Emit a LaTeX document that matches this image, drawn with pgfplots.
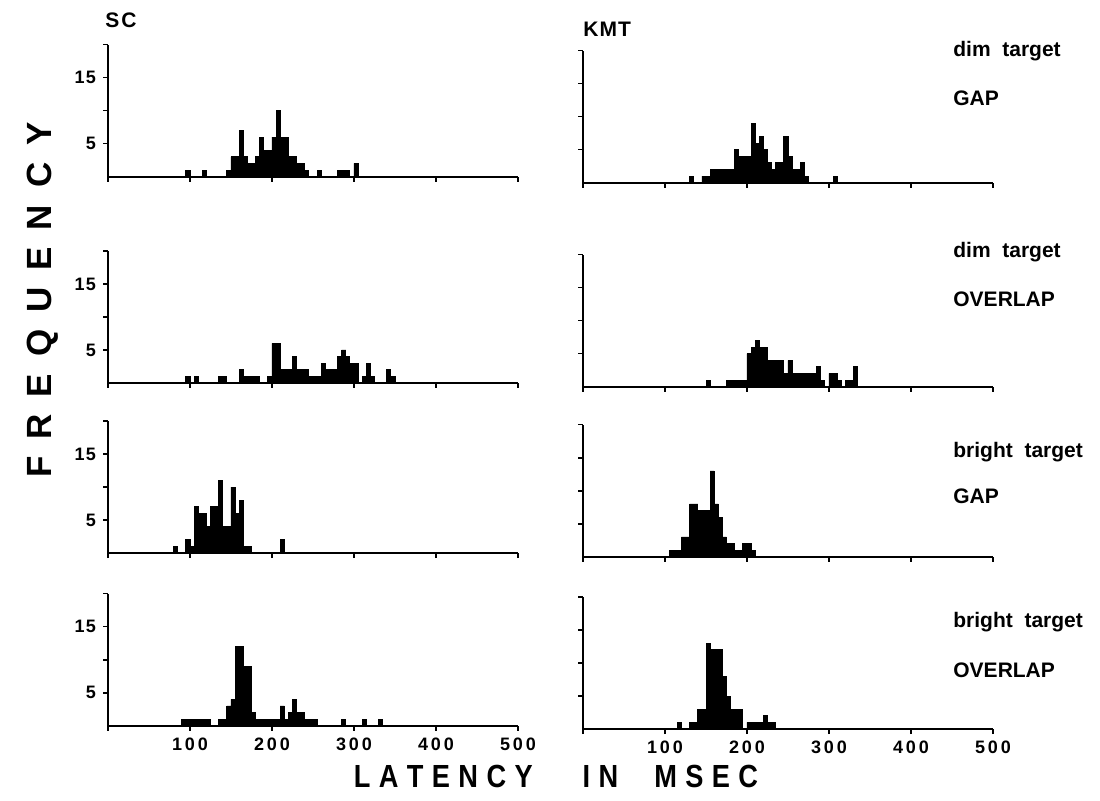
\documentclass[border=0pt]{standalone}
\usepackage{fontspec}
\setmainfont{Liberation Sans}
\newfontfamily\condfont[FakeStretch=0.85]{Liberation Sans}
\usepackage{pgfplots}
\pgfplotsset{compat=1.18}
\newcommand{\tlab}[3]{#1\kern1.4pt#2\kern1.4pt#3}
\newcommand{\spc}[1]{\kern#1}
\pgfplotsset{
  panel/.style={
    scale only axis, width=205pt, height=66pt,
    xmin=0, xmax=500, ymin=0, ymax=20,
    axis x line*=bottom, axis y line*=left,
    axis line style={line width=1pt, -},
    xtick={0,100,...,500}, ytick={5,10,15,20},
    xticklabels={}, yticklabels={},
    tick align=outside, major tick length=2.5pt,
    tick style={line width=0.8pt, black},
    /pgf/number format/assume math mode=true,
    every tick label/.append style={font=\bfseries\fontsize{9}{10}\selectfont},
    ybar, bar width=5, bar shift=2.5,
    clip=false,
  },
  leftp/.style={panel, yticklabels={5,,1\kern0.6pt5,}},
  bottomp/.style={xticklabels={,\tlab100,\tlab200,\tlab300,\tlab400,\tlab500}},
  hist/.style={fill=black, draw=black, line width=0.4pt},
}
\begin{document}
\begin{tikzpicture}
\useasboundingbox (0,0) rectangle (550pt,400pt);
% ---------- row 1
\begin{axis}[leftp, at={(54pt,311.65pt)}, anchor=south west]
\addplot[hist] coordinates {(95,1)(115,1)(145,1)(150,3)(155,3)(160,7)(165,3)(170,2)(175,2)(180,3)(185,6)(190,4)(195,4)(200,6)(205,10)(210,6)(215,6)(220,3)(225,3)(230,2)(235,2)(240,1)(255,1)(280,1)(285,1)(290,1)(300,2)};
\end{axis}
\begin{axis}[panel, at={(291.5pt,308.65pt)}, anchor=south west]
\addplot[hist] coordinates {(130,1)(145,1)(150,1)(155,2)(160,2)(165,2)(170,2)(175,2)(180,2)(185,5)(190,4)(195,4)(200,4)(205,9)(210,6)(215,7)(220,5)(225,3)(230,2)(235,3)(240,3)(245,7)(250,4)(255,2)(260,2)(265,3)(270,1)(305,1)};
\end{axis}
% ---------- row 2
\begin{axis}[leftp, at={(54pt,208.5pt)}, anchor=south west]
\addplot[hist] coordinates {(95,1)(105,1)(135,1)(140,1)(160,2)(165,1)(170,1)(175,1)(180,1)(195,1)(200,6)(205,6)(210,2)(215,2)(220,2)(225,4)(230,2)(235,2)(240,2)(245,1)(250,1)(255,1)(260,3)(265,2)(270,2)(275,2)(280,4)(285,5)(290,4)(295,3)(300,3)(310,1)(315,3)(320,1)(340,2)(345,1)};
\end{axis}
\begin{axis}[panel, at={(291.5pt,206.65pt)}, anchor=south west]
\addplot[hist] coordinates {(150,1)(175,1)(180,1)(185,1)(190,1)(195,1)(200,5)(205,6)(210,7)(215,6)(220,6)(225,4)(230,4)(235,4)(240,4)(245,2)(250,4)(255,2)(260,2)(265,2)(270,2)(275,2)(280,2)(285,3)(290,1)(300,2)(305,2)(310,1)(320,1)(325,1)(330,3)};
\end{axis}
% ---------- row 3
\begin{axis}[leftp, at={(54pt,123.5pt)}, anchor=south west]
\addplot[hist] coordinates {(80,1)(95,2)(100,1)(105,7)(110,6)(115,6)(120,4)(125,7)(130,7)(135,11)(140,4)(145,4)(150,10)(155,6)(160,8)(165,1)(170,1)(210,2)};
\end{axis}
\begin{axis}[panel, at={(291.5pt,121.65pt)}, anchor=south west]
\addplot[hist] coordinates {(105,1)(110,1)(115,1)(120,3)(125,3)(130,8)(135,8)(140,7)(145,7)(150,7)(155,13)(160,8)(165,6)(170,3)(175,2)(180,2)(185,1)(190,1)(195,2)(200,2)(205,1)};
\end{axis}
% ---------- row 4
\begin{axis}[leftp, bottomp, at={(54pt,37.15pt)}, anchor=south west]
\addplot[hist] coordinates {(90,1)(95,1)(100,1)(105,1)(110,1)(115,1)(120,1)(135,1)(140,1)(145,3)(150,4)(155,12)(160,12)(165,9)(170,9)(175,2)(180,1)(185,1)(190,1)(195,1)(200,1)(205,1)(210,3)(215,1)(220,2)(225,4)(230,2)(235,2)(240,1)(245,1)(250,1)(285,1)(310,1)(330,1)};
\end{axis}
\begin{axis}[panel, bottomp, at={(291.5pt,35.5pt)}, anchor=south west]
\addplot[hist] coordinates {(115,1)(130,1)(135,1)(140,3)(145,3)(150,13)(155,12)(160,12)(165,12)(170,8)(175,5)(180,3)(185,3)(190,3)(200,1)(205,1)(210,1)(215,1)(220,2)(225,1)(230,1)};
\end{axis}
% ---------- labels
\begin{scope}[every node/.style={inner sep=0pt, font=\bfseries\fontsize{10.5}{12}\selectfont}]
\node[anchor=north west] at (52.5pt,394pt) {S\kern1pt C};
\node[anchor=north west] at (291.5pt,389pt) {K\kern0.5pt M\kern0.5pt T};
\node[anchor=north west] at (476.5pt,379.5pt) {dim\ \ target};
\node[anchor=north west] at (476.5pt,355pt) {GAP};
\node[anchor=north west] at (476.5pt,279pt) {dim\ \ target};
\node[anchor=north west] at (476.5pt,254.5pt) {OVERLAP};
\node[anchor=north west] at (476.5pt,179pt) {bright\ \ target};
\node[anchor=north west] at (476.5pt,156pt) {GAP};
\node[anchor=north west] at (476.5pt,94pt) {bright\ \ target};
\node[anchor=north west] at (476.5pt,69pt) {OVERLAP};
\end{scope}
\node[inner sep=0pt, rotate=90, font=\bfseries\fontsize{17.5}{18}\selectfont] at (21.5pt,250pt)
  {F\spc{8.5pt}R\spc{8.5pt}E\spc{8.5pt}Q\spc{8.5pt}U\spc{8.5pt}E\spc{8.5pt}N\spc{8.5pt}C\spc{8.5pt}Y};
\node[inner sep=0pt, font=\condfont\bfseries\fontsize{16}{17}\selectfont] at (278pt,12pt)
  {L\spc{4.2pt}A\spc{4.2pt}T\spc{4.2pt}E\spc{4.2pt}N\spc{4.2pt}C\spc{4.2pt}Y\spc{25pt}I\spc{4.2pt}N\spc{18pt}M\spc{4.2pt}S\spc{4.2pt}E\spc{4.2pt}C};
\end{tikzpicture}
\end{document}
